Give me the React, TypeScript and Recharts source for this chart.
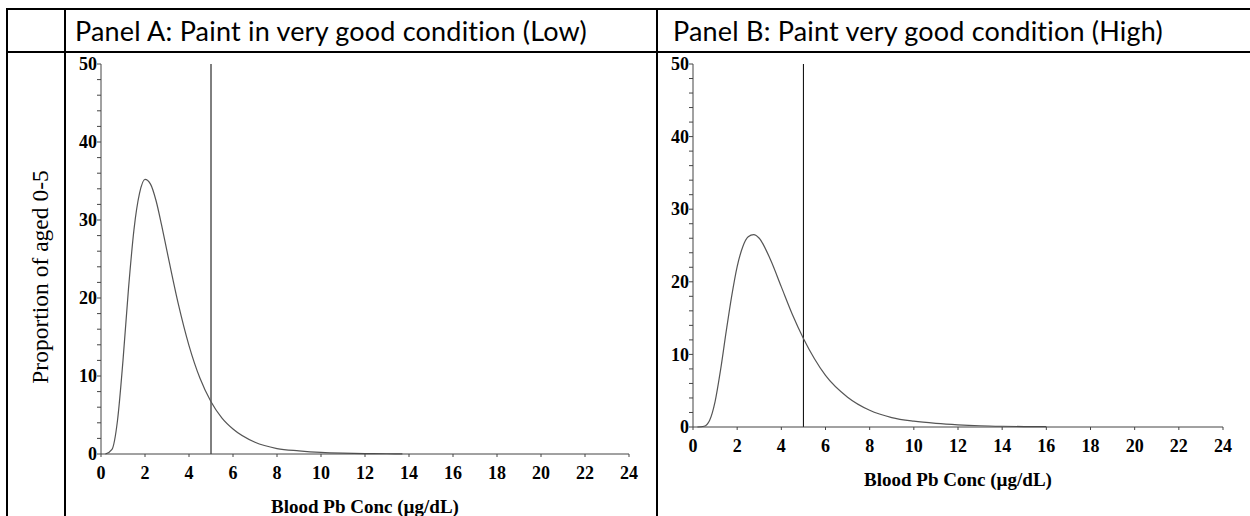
import React from "react";
import {
  LineChart,
  Line,
  XAxis,
  YAxis,
  ReferenceLine,
} from "recharts";

// Panel A: paint in very good condition (Low)
const lowConc = [0.2, 0.5, 0.75, 1, 1.25, 1.5, 1.75, 2, 2.25, 2.5, 2.75, 3, 3.5, 4, 4.5, 5, 5.5, 6, 7, 8, 9, 10, 11, 12, 13, 13.7];
const lowShare = [0, 0.6, 4.3, 12.0, 21.2, 28.8, 33.4, 35.2, 34.6, 32.5, 29.4, 26.0, 19.4, 13.9, 9.7, 6.7, 4.6, 3.2, 1.5, 0.7, 0.4, 0.2, 0.1, 0.05, 0.03, 0.02];

// Panel B: paint very good condition (High)
const highConc = [0.2, 0.5, 0.75, 1, 1.25, 1.5, 1.75, 2, 2.25, 2.5, 2.75, 3, 3.5, 4, 4.5, 5, 5.5, 6, 7, 8, 9, 10, 11, 12, 13, 14, 15, 16];
const highShare = [0, 0.1, 0.9, 3.5, 7.9, 13.1, 18.0, 22.1, 24.8, 26.2, 26.5, 26.0, 23.1, 19.3, 15.5, 12.2, 9.4, 7.1, 4.1, 2.3, 1.3, 0.8, 0.5, 0.3, 0.17, 0.1, 0.06, 0.04];

const xTicks = [0, 2, 4, 6, 8, 10, 12, 14, 16, 18, 20, 22, 24];
const yTicks = [0, 2, 4, 6, 8, 10, 12, 14, 16, 18, 20, 22, 24, 26, 28, 30, 32, 34, 36, 38, 40, 42, 44, 46, 48, 50];
const cutoff = 5;

const headings = ["Panel A: Paint in very good condition (Low)", "Panel B: Paint very good condition (High)"];
const yTitle = "Proportion of aged 0-5";
const xTitle = "Blood Pb Conc (\u00b5g/dL)";

const serif = "'Liberation Serif', serif";

function toRows(xs: number[], ys: number[]) {
  return xs.map((x, i) => ({ x, y: ys[i] }));
}

function XTick({ x, y, payload }: any) {
  return (
    <text x={x} y={y} dy="0.71em" textAnchor="middle" fontFamily={serif} fontWeight="bold" fontSize={18} fill="#000">
      {payload.value}
    </text>
  );
}

function YTick({ x, y, payload }: any) {
  if (payload.value % 10 !== 0) return <g />;
  return (
    <text x={x} y={y} dy="0.34em" textAnchor="end" fontFamily={serif} fontWeight="bold" fontSize={18} fill="#000">
      {payload.value}
    </text>
  );
}

interface PanelProps {
  data: Array<{ x: number; y: number }>;
  left: number;
  width: number;
  bottomPad: number;
}

function Panel({ data, left, width, bottomPad }: PanelProps) {
  return (
    <div style={{ position: "absolute", left, top: 54 }}>
      <LineChart
        width={width}
        height={462}
        data={data}
        margin={{ top: 10, right: 27, left: 5, bottom: bottomPad }}
      >
        <XAxis
          type="number"
          dataKey="x"
          domain={[0, 24]}
          ticks={xTicks}
          interval={0}
          stroke="#444"
          tickSize={3}
          tickMargin={9}
          tick={<XTick />}
          height={62}
          label={{
            value: xTitle,
            position: "insideBottom",
            offset: 3,
            fontFamily: serif,
            fontWeight: "bold",
            fontSize: 19,
            fill: "#000",
          }}
        />
        <YAxis
          type="number"
          domain={[0, 50]}
          ticks={yTicks}
          interval={0}
          width={30}
          stroke="#444"
          tickSize={4}
          tickMargin={0}
          tick={<YTick />}
        />
        <ReferenceLine x={cutoff} stroke="#000" strokeWidth={1} />
        <Line
          type="monotone"
          dataKey="y"
          stroke="#555"
          strokeWidth={1.2}
          dot={false}
          isAnimationActive={false}
        />
      </LineChart>
    </div>
  );
}

const line = (s: React.CSSProperties) => (
  <div style={{ position: "absolute", background: "#000", ...s }} />
);

export default function App() {
  return (
    <div
      style={{
        position: "absolute",
        left: 0,
        top: 0,
        width: 1250,
        height: 516,
        overflow: "hidden",
        background: "#fff",
      }}
    >
      {line({ left: 7, top: 8, width: 1243, height: 2 })}
      {line({ left: 7, top: 51, width: 1243, height: 2 })}
      {line({ left: 6, top: 8, width: 2, height: 508 })}
      {line({ left: 64, top: 8, width: 2, height: 508 })}
      {line({ left: 656, top: 8, width: 2, height: 508 })}

      {headings.map((h, i) => (
        <div
          key={h}
          style={{
            position: "absolute",
            left: i === 0 ? 75 : 673,
            top: 10,
            height: 41,
            display: "flex",
            alignItems: "center",
            fontFamily: "Lato, sans-serif",
            fontSize: 27,
            letterSpacing: 0.2,
            color: "#000",
            whiteSpace: "nowrap",
          }}
        >
          {h}
        </div>
      ))}

      <div
        style={{
          position: "absolute",
          left: 40,
          top: 277,
          transform: "translate(-50%, -50%) rotate(-90deg)",
          fontFamily: serif,
          fontSize: 23.5,
          whiteSpace: "nowrap",
          color: "#000",
        }}
      >
        {yTitle}
      </div>

      <Panel data={toRows(lowConc, lowShare)} left={66} width={590} bottomPad={0} />
      <Panel data={toRows(highConc, highShare)} left={658} width={592} bottomPad={27} />
    </div>
  );
}
